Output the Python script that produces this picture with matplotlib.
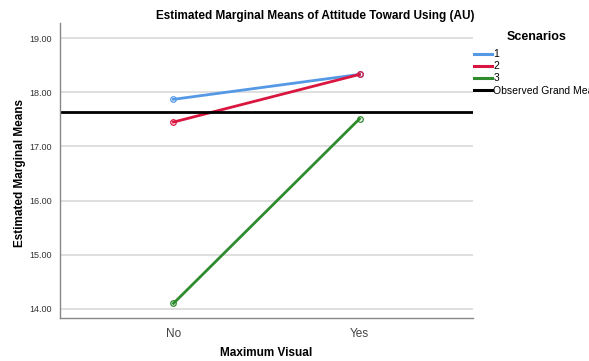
import matplotlib
matplotlib.use("Agg")
import matplotlib.pyplot as plt

# data
categories = ["No", "Yes"]
scenarios = ["1", "2", "3"]
means_s1 = [17.87, 18.33]
means_s2 = [17.45, 18.33]
means_s3 = [14.10, 17.51]
grand_mean = 17.63
y_ticks = [14.0, 15.0, 16.0, 17.0, 18.0, 19.0]

colors = ["#5599e6", "#d9163f", "#2e8b2e"]

plt.rcParams['font.family'] = ['Liberation Sans', 'DejaVu Sans']

fig = plt.figure(figsize=(5.89, 3.61), dpi=100)
ax = fig.add_axes([60 / 589, 1 - 318 / 361, 413 / 589, 295 / 361])

x = list(range(len(categories)))
for vals, lab, c in zip([means_s1, means_s2, means_s3], scenarios, colors):
    ax.plot(x, vals, '-', color=c, linewidth=2, label=lab,
            marker='o', markersize=4, markerfacecolor='none',
            markeredgewidth=0.9)
ax.axhline(grand_mean, color='black', linewidth=2, label='Observed Grand Mean')

ax.set_xlim(-0.61, 1.61)
ax.set_ylim(13.83, 19.28)
ax.set_xticks(x)
ax.set_xticklabels(categories, fontsize=8.5, color='#444444')
ax.set_yticks(y_ticks)
ax.set_yticklabels([f"{v:.2f}" for v in y_ticks], fontsize=6.5, color='#333333')
ax.tick_params(length=0, pad=6)
ax.tick_params(axis='x', pad=7)
ax.grid(axis='y', color='#d9d9d9', linewidth=1.2)
ax.set_axisbelow(True)
for s in ['top', 'right']:
    ax.spines[s].set_visible(False)
for s in ['left', 'bottom']:
    ax.spines[s].set_color('#888888')
    ax.spines[s].set_linewidth(1)

fig.text(315 / 589, 1 - 16 / 361, "Estimated Marginal Means of Attitude Toward Using (AU)",
         ha='center', va='center', fontsize=8.5, fontweight='bold')
fig.text(20 / 589, 1 - 173 / 361, "Estimated Marginal Means", rotation=90,
         ha='center', va='center', fontsize=8.5, fontweight='bold')
fig.text(266 / 589, 1 - 353 / 361, "Maximum Visual",
         ha='center', va='center', fontsize=8.5, fontweight='bold')

leg = fig.legend(loc='upper left', bbox_to_anchor=(474 / 589, 1 - 31 / 361),
                 title='Scenarios', frameon=False, fontsize=7.5,
                 handlelength=1.75, handletextpad=0.1, labelspacing=0.2,
                 borderaxespad=0, borderpad=0)
leg.get_title().set_fontweight('bold')
leg.get_title().set_fontsize(9)
leg._legend_box.sep = 4.5
for line in leg.get_lines():
    line.set_marker('')
    line.set_linewidth(2.2)

fig.savefig("out.png", dpi=100)
